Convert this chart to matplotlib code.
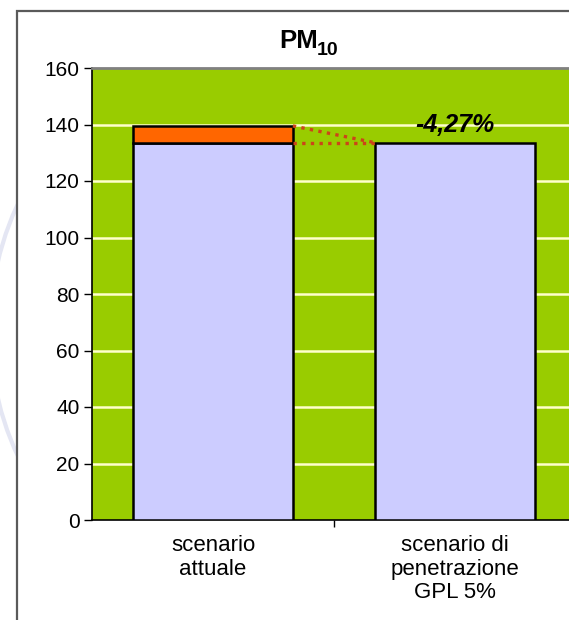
import numpy as np
import matplotlib
matplotlib.use('Agg')
import matplotlib.pyplot as plt
from matplotlib.patches import Rectangle, Arc

# PM10 emissions: current scenario vs. 5% LPG penetration
categories = ["scenario\nattuale", "scenario di\npenetrazione\nGPL 5%"]
totale_attuale = 139.5
riduzione_pct = 4.27
valore_gpl = round(totale_attuale * (1 - riduzione_pct / 100), 2)
base_values = [valore_gpl, valore_gpl]
riduzione_values = [totale_attuale - valore_gpl, 0.0]
yticks = [0, 20, 40, 60, 80, 100, 120, 140, 160]

W, H = 569, 620
plt.rcParams['font.family'] = ['Liberation Sans', 'DejaVu Sans']

fig = plt.figure(figsize=(W / 100, H / 100), dpi=100)
fig.patch.set_facecolor('white')


def fx(px):
    return px / W


def fy(py):
    return 1 - py / H


# faint slide swooshes behind the chart frame
for cx, cy, w, h, t1, t2 in [
        (250, 330, 520, 560, 150, 215),
        (330, 420, 620, 640, 160, 225),
        (700, -260, 900, 500, 95, 140)]:
    fig.add_artist(Arc((fx(cx), fy(cy)), w / W, h / H, theta1=t1, theta2=t2,
                       transform=fig.transFigure, color='#e4e6f3', lw=3,
                       zorder=0))

# chart frame
fig.add_artist(Rectangle((fx(17), -0.1), 1.2, fy(11) + 0.1,
                         transform=fig.transFigure, facecolor='white',
                         edgecolor='#5a5a5a', lw=1.6, zorder=1))

ax = fig.add_axes([fx(92), fy(520), 484 / W, 452 / H], zorder=2)
ax.set_facecolor('#99cc00')

x = np.arange(len(categories))
bar_w = 0.66
ax.bar(x, base_values, width=bar_w, color='#ccccff', edgecolor='black',
       linewidth=1.8, zorder=3)
ax.bar(x[:1], riduzione_values[:1], bottom=base_values[:1], width=bar_w,
       color='#ff6600', edgecolor='black', linewidth=1.8, zorder=3)

# dotted connectors from the current bar to the LPG bar
x1 = x[0] + bar_w / 2
x2 = x[1] - bar_w / 2
ax.plot([x1, x2], [totale_attuale, valore_gpl], ls=(0, (1, 1.6)),
        color='#cc4419', lw=2.4, zorder=4)
ax.plot([x1, x2], [base_values[0], valore_gpl], ls=(0, (1, 1.6)),
        color='#cc4419', lw=2.4, zorder=4)

ax.text(x[1], valore_gpl + 2.0, f"-{riduzione_pct:.2f}%".replace('.', ','),
        ha='center', va='bottom', fontsize=18, fontweight='bold',
        fontstyle='italic', zorder=5)

ax.set_xlim(-0.5, 1.5)
ax.set_ylim(0, 160)
ax.set_yticks(yticks)
ax.set_yticklabels([str(v) for v in yticks], fontsize=15)
for v in yticks[1:-1]:
    ax.axhline(v, color='#ffffcc', lw=1.8, zorder=1)

ax.set_xticks(x)
ax.set_xticklabels(categories, fontsize=16, linespacing=1.15)
ax.set_xticks([0.5], minor=True)
ax.tick_params(axis='x', which='major', length=0, pad=11)
ax.tick_params(axis='x', which='minor', length=5, width=1, direction='out')
ax.tick_params(axis='y', length=6, width=1, direction='out', pad=3)

ax.spines['left'].set_color('black')
ax.spines['bottom'].set_color('black')
ax.spines['left'].set_linewidth(1.2)
ax.spines['bottom'].set_linewidth(1.2)
ax.spines['top'].set_color('#808080')
ax.spines['top'].set_linewidth(2)
ax.spines['right'].set_visible(False)

# title "PM10" with a slightly lowered subscript
t = fig.text(fx(279), fy(48), "PM", fontsize=18.5, fontweight='bold',
             ha='left', va='baseline', zorder=5)
sub = fig.text(0, 0, "10", fontsize=14, fontweight='bold', ha='left',
               va='baseline', zorder=5)
fig.canvas.draw()
bb = t.get_window_extent()
sub.set_position(((bb.x1 - 1) / W, (bb.y0 - 2) / H))

fig.savefig('out.png', dpi=100, facecolor='white')
